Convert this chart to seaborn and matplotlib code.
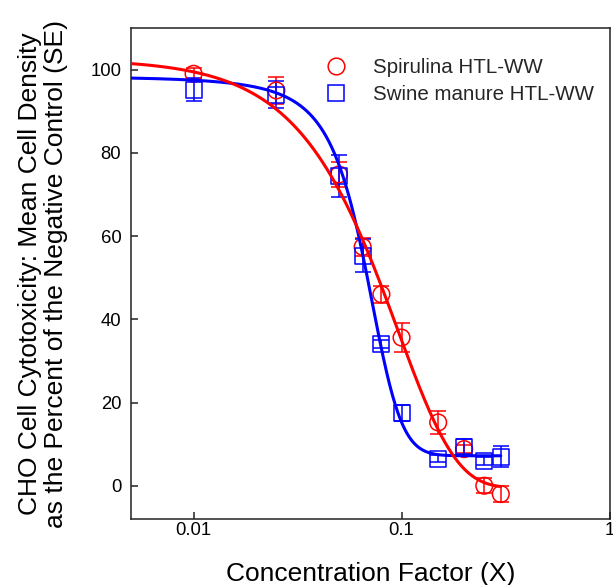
import numpy as np
import pandas as pd
import matplotlib
matplotlib.use("Agg")
import matplotlib.pyplot as plt
from matplotlib.lines import Line2D
from matplotlib.ticker import FixedLocator, FixedFormatter, NullLocator
import seaborn as sns

# ---- data ----
conc = [0.01, 0.025, 0.05, 0.065, 0.08, 0.1, 0.15, 0.2, 0.25, 0.3]
spirulina_mean = [99.0, 95.0, 74.8, 57.4, 46.0, 35.6, 15.2, 8.8, 0.0, -2.0]
spirulina_se = [1.3, 3.2, 3.0, 2.2, 2.0, 3.5, 2.7, 1.0, 1.8, 2.0]
swine_mean = [95.2, 94.0, 74.4, 55.3, 34.0, 17.5, 6.5, 9.4, 6.0, 7.0]
swine_se = [2.8, 3.2, 5.0, 4.0, 1.0, 2.0, 0.8, 1.8, 1.0, 2.5]

series_names = ["Spirulina HTL-WW", "Swine manure HTL-WW"]
x_ticks = [0.01, 0.1, 1]
x_tick_labels = ["0.01", "0.1", "1"]
y_ticks = [0, 20, 40, 60, 80, 100]

# fitted-curve parameters (estimated from the reference curves)
spirulina_fit = dict(bottom=-0.5, top=102.5, scale=0.096, shape=1.55)   # Weibull decay
swine_fit = dict(bottom=7.2, span=92.0, x0=0.0665, width=0.0143)        # 4-param sigmoid
curve_range = (0.005, 0.3)

# ---- curves ----
curve_x = np.logspace(np.log10(curve_range[0]), np.log10(curve_range[1]), 400)
p = spirulina_fit
spir_curve = p["bottom"] + (p["top"] - p["bottom"]) * np.exp(-(curve_x / p["scale"]) ** p["shape"])
q = swine_fit
swine_curve = q["bottom"] + q["span"] / (1 + np.exp((curve_x - q["x0"]) / q["width"]))

sns.set_theme(style="ticks")
plt.rcParams["font.family"] = ["Liberation Sans", "DejaVu Sans"]

RED = "#ff0000"
BLUE = "#0000ff"

fig = plt.figure(figsize=(6.13, 5.85), dpi=100)
ax = fig.add_axes([0.2137, 0.1128, 0.7806, 0.8393])

# error bars
ax.errorbar(conc, spirulina_mean, yerr=spirulina_se, fmt="none", ecolor=RED,
            elinewidth=1.1, capsize=5.6, capthick=1.1, zorder=2)
ax.errorbar(conc, swine_mean, yerr=swine_se, fmt="none", ecolor=BLUE,
            elinewidth=1.1, capsize=5.6, capthick=1.1, zorder=2)

# markers
sns.scatterplot(x=conc, y=spirulina_mean, marker="o", s=12.0 ** 2,
                facecolor="none", edgecolor=RED, linewidth=1.1, ax=ax, zorder=3)
sns.scatterplot(x=conc, y=swine_mean, marker="s", s=11.5 ** 2,
                facecolor="none", edgecolor=BLUE, linewidth=1.1, ax=ax, zorder=3)

# fitted curves
sns.lineplot(x=curve_x, y=swine_curve, color=BLUE, linewidth=2.2, ax=ax, zorder=4)
sns.lineplot(x=curve_x, y=spir_curve, color=RED, linewidth=2.2, ax=ax, zorder=5)

ax.set_xscale("log")
ax.set_xlim(0.005, 1)
ax.set_ylim(-8, 110)
ax.xaxis.set_major_locator(FixedLocator(x_ticks))
ax.xaxis.set_major_formatter(FixedFormatter(x_tick_labels))
ax.xaxis.set_minor_locator(NullLocator())
ax.set_yticks(y_ticks)

for s in ax.spines.values():
    s.set_visible(True)
    s.set_color("#222222")
    s.set_linewidth(1.1)

ax.tick_params(axis="x", direction="in", length=5, width=1.1, colors="#222222",
               labelcolor="black", labelsize=13.3, pad=2.5)
ax.tick_params(axis="y", direction="in", length=5, width=1.1, colors="#222222",
               labelcolor="black", labelsize=13.3, pad=7.0)

ax.set_xlabel("Concentration Factor (X)", fontsize=19, labelpad=16, color="black")
ax.set_ylabel("CHO Cell Cytotoxicity: Mean Cell Density\nas the Percent of the Negative Control (SE)",
              fontsize=19, labelpad=16, color="black", linespacing=1.12)

handles = [
    Line2D([], [], marker="o", ls="none", mfc="none", mec=RED, ms=12.0, mew=1.1),
    Line2D([], [], marker="s", ls="none", mfc="none", mec=BLUE, ms=11.5, mew=1.1),
]
ax.legend(handles, series_names, loc="upper left", bbox_to_anchor=(0.385, 0.939),
          frameon=False, fontsize=14.8, borderpad=0, borderaxespad=0,
          labelspacing=0.39, handletextpad=0.8, handlelength=2.0)

fig.savefig("out.png", dpi=100)
